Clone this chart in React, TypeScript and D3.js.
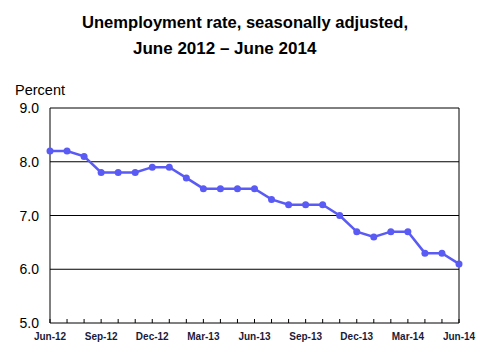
// Unemployment rate line chart - June 2012 to June 2014

import * as d3 from "d3";

const months = [
  "Jun-12", "Jul-12", "Aug-12", "Sep-12", "Oct-12", "Nov-12", "Dec-12",
  "Jan-13", "Feb-13", "Mar-13", "Apr-13", "May-13", "Jun-13", "Jul-13",
  "Aug-13", "Sep-13", "Oct-13", "Nov-13", "Dec-13", "Jan-14", "Feb-14",
  "Mar-14", "Apr-14", "May-14", "Jun-14",
];
const rates = [
  8.2, 8.2, 8.1, 7.8, 7.8, 7.8, 7.9, 7.9, 7.7, 7.5, 7.5, 7.5, 7.5, 7.3,
  7.2, 7.2, 7.2, 7.0, 6.7, 6.6, 6.7, 6.7, 6.3, 6.3, 6.1,
];
const xLabels = ["Jun-12", "Sep-12", "Dec-12", "Mar-13", "Jun-13", "Sep-13", "Dec-13", "Mar-14", "Jun-14"];
const yTicks = [5, 6, 7, 8, 9];

export default function App() {
  const width = 483;
  const height = 359;
  const left = 50;
  const right = 459;
  const top = 108;
  const bottom = 323;

  const x = d3.scalePoint<string>().domain(months).range([left, right]);
  const y = d3.scaleLinear().domain([5, 9]).range([bottom, top]);

  const line = d3
    .line<number>()
    .x((_, i) => x(months[i]) as number)
    .y((d) => y(d));

  const font = "Arial, 'Liberation Sans', sans-serif";
  const lineColor = "#5a5af5";

  return (
    <svg
      width={width}
      height={height}
      style={{ position: "absolute", left: 0, top: 0, background: "#fff" }}
      fontFamily={font}
    >
      {/* title */}
      <text x={82} y={28} fontSize={17} fontWeight="bold" textLength={326} lengthAdjust="spacingAndGlyphs" fill="#000">
        Unemployment rate, seasonally adjusted,
      </text>
      <text x={133} y={54} fontSize={17} fontWeight="bold" fill="#000">
        June 2012 – June 2014
      </text>

      {/* y axis title */}
      <text x={15} y={95} fontSize={14.5} fill="#000">
        Percent
      </text>

      {/* gridlines */}
      {yTicks.map((t) => (
        <line key={t} x1={left} x2={right} y1={y(t)} y2={y(t)} stroke="#000" strokeWidth={1} />
      ))}
      <line x1={left} x2={left} y1={top} y2={bottom} stroke="#000" strokeWidth={1} />
      <line x1={right} x2={right} y1={top} y2={bottom} stroke="#000" strokeWidth={1} />

      {/* y tick labels */}
      {yTicks.map((t) => (
        <text key={t} x={39} y={y(t) + 5} fontSize={14} textAnchor="end" fill="#000">
          {t.toFixed(1)}
        </text>
      ))}

      {/* x ticks (monthly, pointing up) */}
      {months.map((m) => (
        <line key={m} x1={x(m)} x2={x(m)} y1={bottom} y2={bottom - 4} stroke="#000" strokeWidth={1} />
      ))}

      {/* x tick labels */}
      {xLabels.map((m) => (
        <text key={m} x={x(m)} y={340} fontSize={10} fontWeight="bold" textAnchor="middle" fill="#1a1a3a">
          {m}
        </text>
      ))}

      {/* data line */}
      <path d={line(rates) || ""} fill="none" stroke={lineColor} strokeWidth={2.5} />
      {rates.map((r, i) => (
        <circle key={i} cx={x(months[i])} cy={y(r)} r={3.5} fill={lineColor} />
      ))}
    </svg>
  );
}
